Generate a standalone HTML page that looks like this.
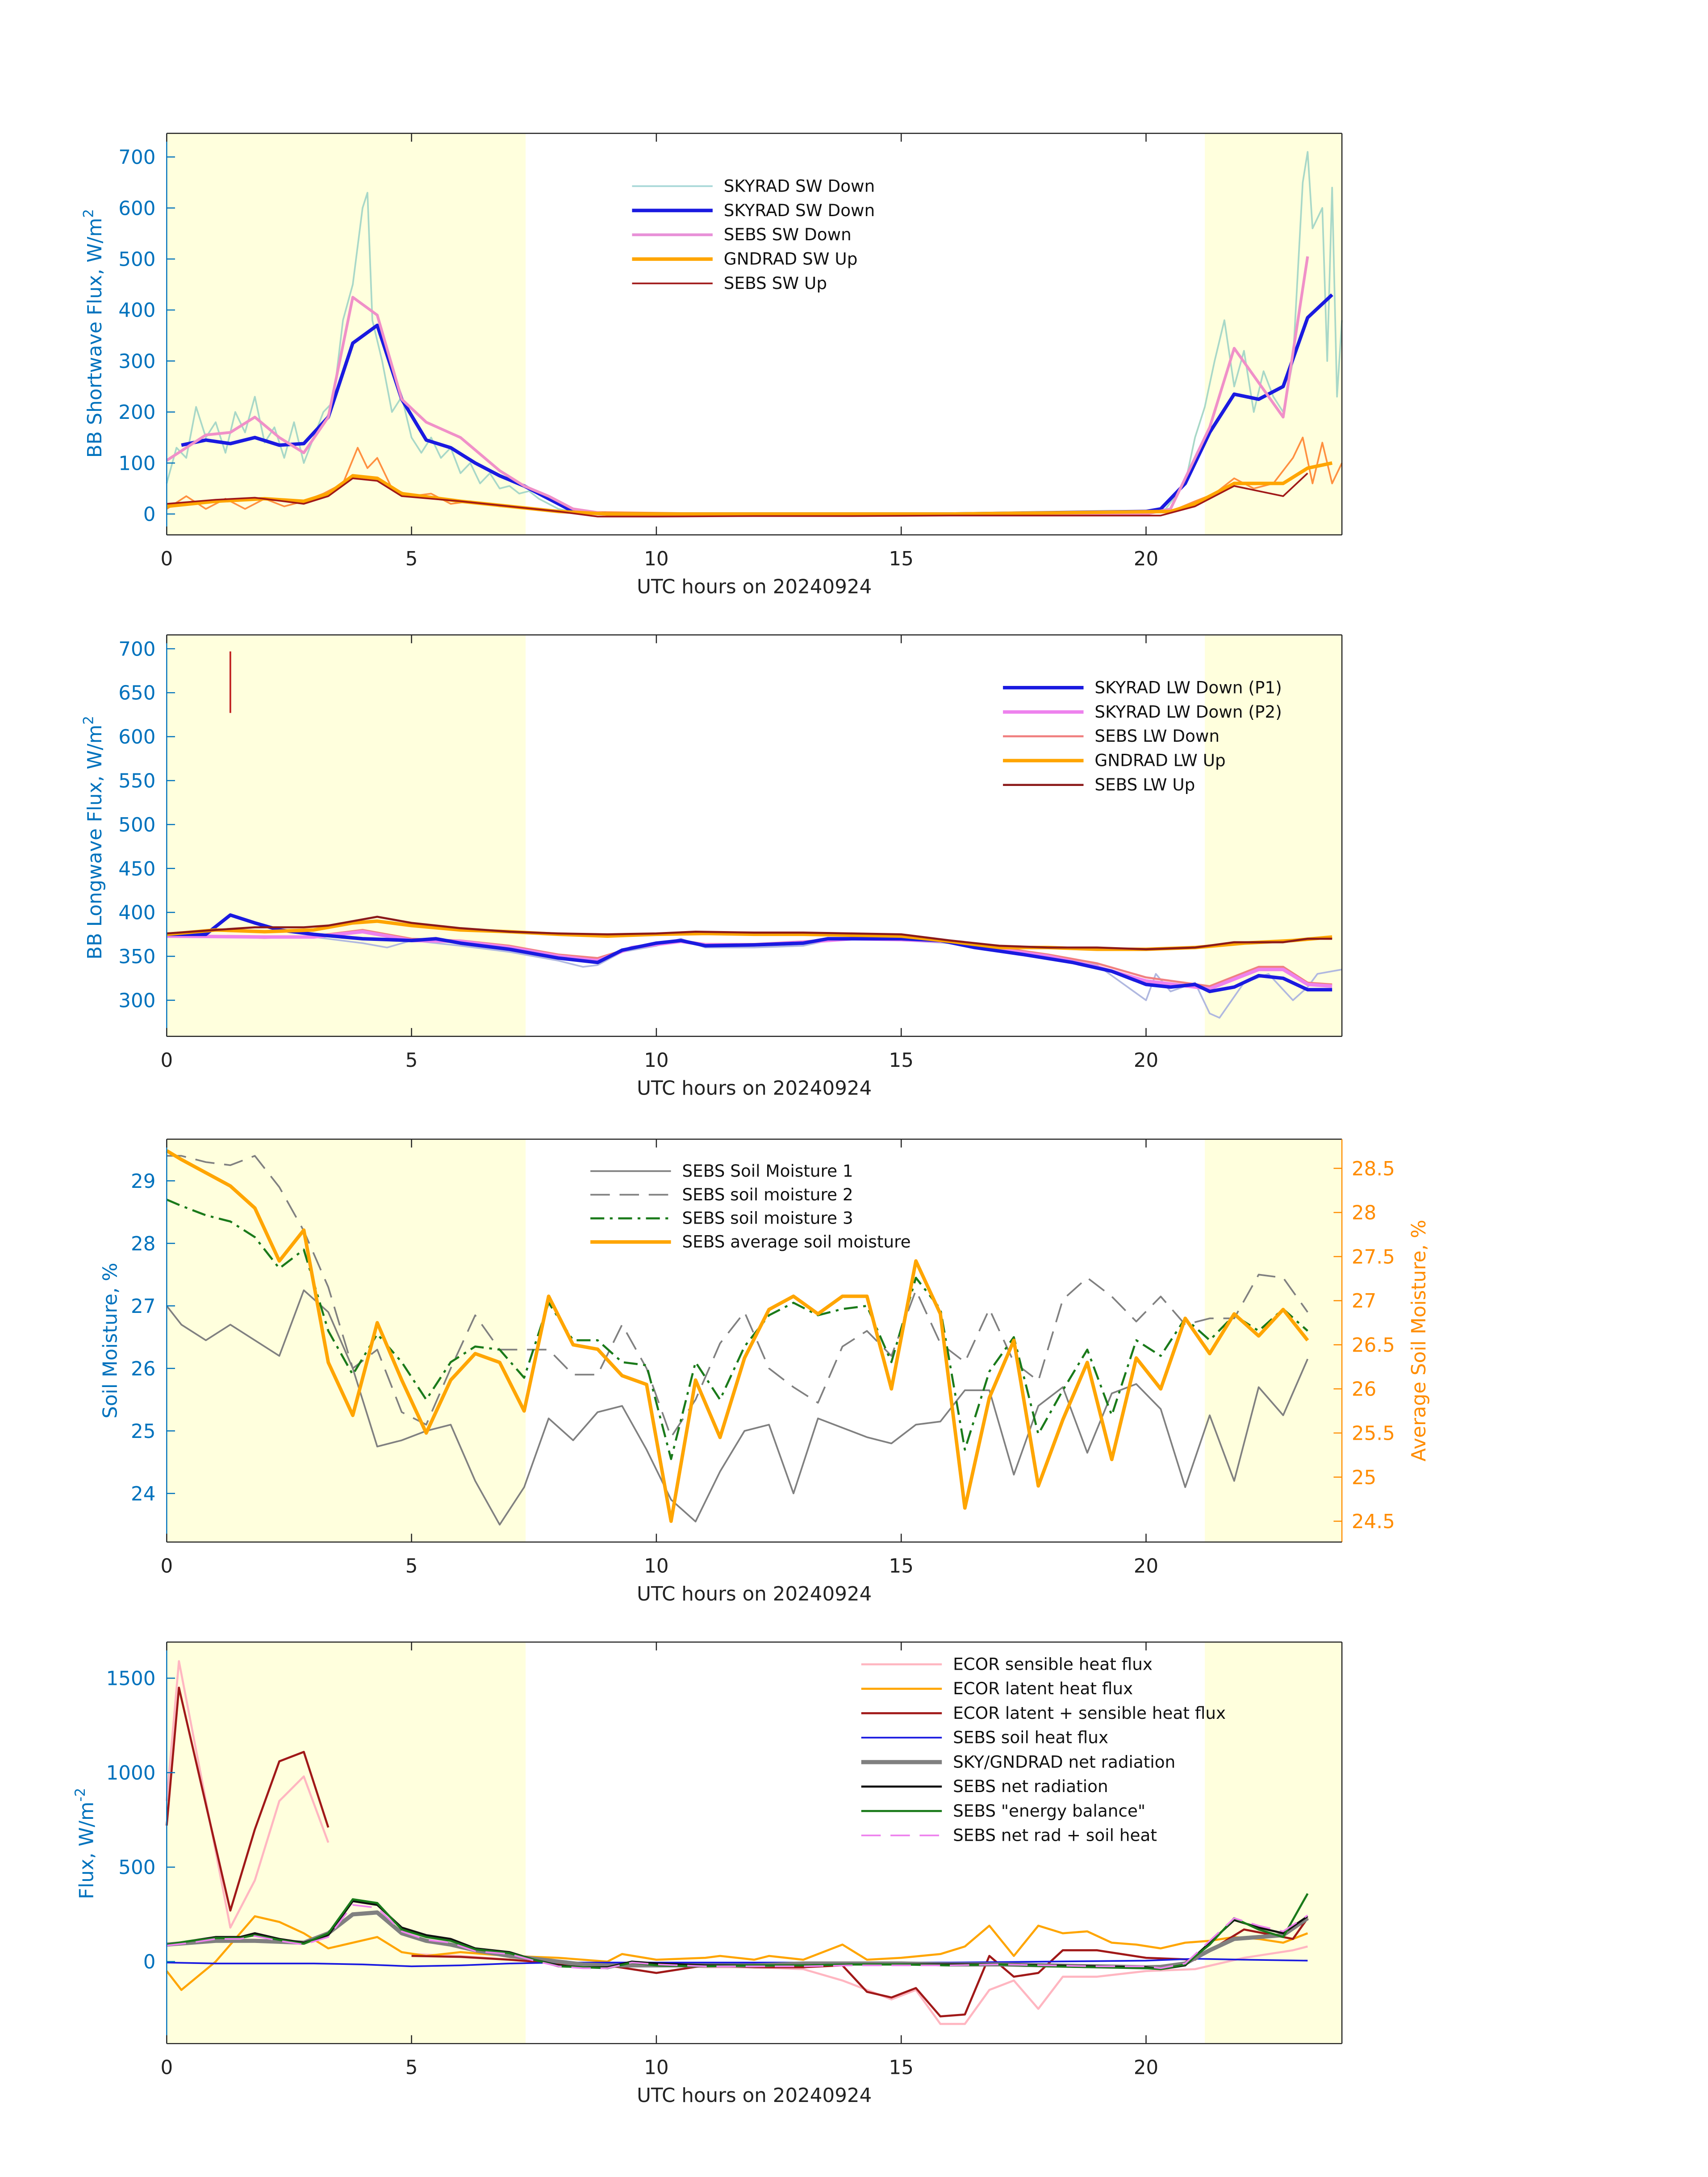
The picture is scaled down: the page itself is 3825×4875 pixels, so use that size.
<!DOCTYPE html>
<html><head><meta charset="utf-8">
<style>
html,body{margin:0;padding:0;background:#fff;}
svg{display:block;font-family:"DejaVu Sans","Liberation Sans",sans-serif;}
</style></head>
<body>
<svg width="3825" height="4875" viewBox="0 0 1224 1560" xmlns="http://www.w3.org/2000/svg"><g id="fig" transform="scale(0.9955)"></g></svg>
<script>
// ---------- DATA ----------
// Panel 1 (shortwave)
const swTealT=[0,0.2,0.4,0.6,0.8,1.0,1.2,1.4,1.6,1.8,2.0,2.2,2.4,2.6,2.8,3.0,3.2,3.4,3.6,3.8,4.0,4.1,4.2,4.4,4.6,4.8,5.0,5.2,5.4,5.6,5.8,6.0,6.2,6.4,6.6,6.8,7.0,7.2,7.4,7.6,8,8.5,12,16,20,20.4,20.8,21.0,21.2,21.4,21.6,21.8,22,22.2,22.4,22.6,22.8,23.0,23.2,23.3,23.4,23.6,23.7,23.8,23.9,24];
const swTealV=[60,130,110,210,150,180,120,200,160,230,140,170,110,180,100,150,200,220,380,450,600,630,380,300,200,230,150,120,150,110,130,80,100,60,80,50,55,40,45,30,10,0,0,0,0,10,60,150,210,300,380,250,320,200,280,230,200,300,650,710,560,600,300,640,230,380];
const swDownT=[0.3,0.8,1.3,1.8,2.3,2.8,3.3,3.8,4.3,4.8,5.3,5.8,6.3,6.8,7.3,7.8,8.3,9,12,16,20,20.3,20.8,21.3,21.8,22.3,22.8,23.3,23.8];
const swDownV=[135,145,138,150,135,138,190,335,370,225,145,130,100,75,55,30,5,0,0,0,5,10,60,160,235,225,250,385,430];
const sebsDownT=[0,0.8,1.3,1.8,2.3,2.8,3.3,3.8,4.3,4.8,5.3,6,6.8,7.3,7.8,8.3,9,12,16,20,20.5,21.3,21.8,22.8,23.3];
const sebsDownV=[105,155,160,190,150,120,190,425,390,225,180,150,85,55,35,10,0,0,0,0,10,170,325,190,505];
const gndNoisyT=[0,0.4,0.8,1.2,1.6,2,2.4,2.8,3.2,3.6,3.9,4.1,4.3,4.6,5,5.4,5.8,6.2,6.8,7.5,8,12,16,20.5,21,21.4,21.8,22.2,22.6,23,23.2,23.4,23.6,23.8,24];
const gndNoisyV=[10,35,10,30,10,30,15,25,40,60,130,90,110,50,35,40,20,25,15,10,5,0,0,5,25,40,70,50,60,110,150,60,140,60,100];
const gndUpT=[0,1,2,2.8,3.3,3.8,4.3,4.8,6,7,8,9,12,16,20.5,21,21.8,22.8,23.3,23.8];
const gndUpV=[15,25,30,25,40,75,70,40,25,15,5,0,0,0,5,20,60,60,90,100];
const sebsUpT=[0,1,1.8,2.8,3.3,3.8,4.3,4.8,6,7,8,8.8,10,12,14,16,18,20.3,21,21.8,22.8,23.3];
const sebsUpV=[20,28,32,20,35,70,65,35,25,15,5,-5,-5,-4,-4,-3,-3,-3,15,55,35,80];
const swTicks=[0,100,200,300,400,500,600,700];
// Panel 2 (longwave)
const lwThinT=[0,1,2,3,4,4.5,5,6,7,8,8.5,8.8,9.3,10,10.5,11,12,13,13.5,14,15,16,17,18,19,19.5,20,20.2,20.5,21,21.3,21.5,22,22.5,23,23.3,23.5,24];
const lwThinV=[372,372,372,372,365,360,368,362,355,345,338,340,355,362,370,360,360,362,368,370,368,365,356,348,340,320,300,330,310,320,285,280,320,330,300,315,330,335];
const lwP1T=[0,0.8,1.3,1.8,2.3,3,4,5,5.5,6,7,8,8.8,9.3,10,10.5,11,12,13,13.5,14,15,15.8,16.5,17.5,18.5,19.3,20,20.5,21,21.3,21.8,22.3,22.8,23.3,23.8];
const lwP1V=[375,375,397,388,380,375,370,368,370,365,358,348,343,357,365,368,362,363,365,370,370,370,368,360,352,343,333,318,315,318,310,315,328,325,312,312];
const lwP2T=[0,2,3,4,5,6,7,8,8.8,9.5,10.5,11,12,13,14,15,16,17,18,19,20,21.3,22.3,22.8,23.3,23.8];
const lwP2V=[373,372,372,378,368,367,360,350,345,360,367,363,363,366,370,369,367,358,350,338,322,313,335,335,318,316];
const sebsLwDownT=[0,2,3,4,5,6,7,8,8.8,9.5,10.5,11,12,13,14,15,16,17,18,19,20,21.3,22.3,22.8,23.3,23.8];
const sebsLwDownV=[374,371,373,380,370,368,362,352,348,360,368,364,364,367,371,370,368,360,352,342,326,316,338,338,320,318];
const gndLwT=[0,1,2,3,3.8,4.3,5,6,7,8,9,10,11,12,13,14,15,16,17,18,19,20,21,22,23,23.8];
const gndLwV=[375,380,378,380,388,390,385,380,378,375,373,375,376,375,375,374,373,367,360,360,358,358,360,365,368,372];
const sebsLwUpT=[0,1,1.8,2.8,3.3,4.3,5,6,7,8,9,10,10.8,12,13,14,15,16,17,18,19,20,21,21.8,22.8,23.3,23.8];
const sebsLwUpV=[376,380,383,383,385,395,388,382,378,376,375,376,378,377,377,376,375,368,362,360,360,358,360,366,366,370,370];
const lwSpikeT=[1.3,1.3];
const lwSpikeV=[627,697];
const lwTicks=[300,350,400,450,500,550,600,650,700];
// Panel 3 (soil moisture)
const smT=[0,0.3,0.8,1.3,1.8,2.3,2.8,3.3,3.8,4.3,4.8,5.3,5.8,6.3,6.8,7.3,7.8,8.3,8.8,9.3,9.8,10.3,10.8,11.3,11.8,12.3,12.8,13.3,13.8,14.3,14.8,15.3,15.8,16.3,16.8,17.3,17.8,18.3,18.8,19.3,19.8,20.3,20.8,21.3,21.8,22.3,22.8,23.3];
const sm1=[27.0,26.7,26.45,26.7,26.45,26.2,27.25,26.9,26.0,24.75,24.85,25.0,25.1,24.2,23.5,24.1,25.2,24.85,25.3,25.4,24.7,23.9,23.55,24.35,25.0,25.1,24.0,25.2,25.05,24.9,24.8,25.1,25.15,25.65,25.65,24.3,25.4,25.7,24.65,25.6,25.75,25.35,24.1,25.25,24.2,25.7,25.25,26.15];
const sm2=[29.4,29.4,29.3,29.25,29.4,28.9,28.2,27.3,26.0,26.3,25.3,25.1,26.0,26.85,26.3,26.3,26.3,25.9,25.9,26.7,26.0,24.9,25.5,26.4,26.9,26.0,25.7,25.45,26.35,26.6,26.2,27.25,26.4,26.1,26.95,26.1,25.8,27.1,27.45,27.15,26.75,27.15,26.7,26.8,26.8,27.5,27.45,26.9];
const sm3=[28.7,28.6,28.45,28.35,28.1,27.6,27.9,26.6,25.9,26.55,26.1,25.5,26.1,26.35,26.3,25.85,27.05,26.45,26.45,26.1,26.05,24.55,26.1,25.5,26.35,26.85,27.05,26.85,26.95,27.0,26.1,27.45,26.95,24.7,25.95,26.5,24.95,25.65,26.3,25.25,26.45,26.2,26.8,26.45,26.85,26.6,26.95,26.6];
const smAvg=[28.7,28.6,28.45,28.3,28.05,27.45,27.8,26.3,25.7,26.75,26.1,25.5,26.1,26.4,26.3,25.75,27.05,26.5,26.45,26.15,26.05,24.5,26.1,25.45,26.35,26.9,27.05,26.85,27.05,27.05,26.0,27.45,26.85,24.65,25.9,26.55,24.9,25.65,26.3,25.2,26.35,26.0,26.8,26.4,26.85,26.6,26.9,26.55];
const smLeftTicks=[24,25,26,27,28,29];
const smRightTicks=[24.5,25,25.5,26,26.5,27,27.5,28,28.5];
// Panel 4 (flux)
const ecorT1=[0,0.25,1.3,1.8,2.3,2.8,3.3];
const ecorSens1=[850,1590,180,430,850,980,630];
const ecorSum1=[720,1450,270,700,1060,1110,710];
const ecorT2=[5,6,7,8,9,10,11,12,13,13.8,14.3,14.8,15.3,15.8,16.3,16.8,17.3,17.8,18.3,19,20,21,22,23,23.3];
const ecorSens2=[40,30,10,-10,-30,-20,-30,-30,-40,-100,-150,-200,-150,-330,-330,-150,-100,-250,-80,-80,-50,-40,20,60,80];
const ecorSum2=[30,25,10,-10,-20,-60,-20,-30,-30,-20,-160,-190,-140,-290,-280,30,-80,-60,60,60,20,10,170,120,230];
const latT=[0,0.3,1,1.8,2.3,2.8,3.3,4.3,4.8,5.3,6,7,8,9,9.3,10,11,11.3,12,12.3,13,13.8,14.3,15,15.8,16.3,16.8,17.3,17.8,18.3,18.8,19.3,19.8,20.3,20.8,21.3,21.8,22.3,22.8,23.3];
const latV=[-50,-150,0,240,210,150,70,130,50,30,50,30,20,0,40,10,20,30,10,30,10,90,10,20,40,80,190,30,190,150,160,100,90,70,100,110,130,120,100,150];
const soilT=[0,1,2,3,4,5,6,7,8,10,12,14,16,18,20,21,22,23.3];
const soilV=[-5,-10,-10,-10,-15,-25,-20,-10,-5,-5,-5,-5,-5,0,5,15,10,5];
const netT=[0,0.5,1,1.5,1.8,2.3,2.8,3.3,3.8,4.3,4.8,5.3,5.8,6.3,7,7.5,8,8.5,9,9.5,10,11,12,13,14,15,16,17,18,19,20,20.3,20.8,21.3,21.8,22.3,22.8,23.3];
const skyNet=[90,100,110,110,110,105,100,150,250,260,150,110,90,60,30,15,0,-15,-20,-20,-20,-20,-20,-10,-10,-10,-15,-15,-20,-25,-30,-28,-10,60,120,130,140,230];
const sebsNet=[90,110,130,130,150,120,100,140,320,300,180,140,120,70,50,10,-20,-30,-30,0,-10,-20,-20,-20,-15,-15,-15,-15,-20,-25,-30,-40,-20,100,220,180,150,240];
const energyBal=[90,110,125,125,140,115,95,150,330,310,170,130,110,65,45,10,-25,-30,-35,-5,-20,-25,-20,-20,-15,-15,-20,-15,-25,-30,-35,-40,-15,90,230,170,130,360];
const netSoil=[85,100,120,120,135,110,90,130,300,285,160,115,100,55,40,5,-25,-35,-35,-5,-15,-25,-25,-25,-20,-20,-20,-15,-20,-25,-25,-35,-10,110,230,190,160,245];
const fluxTicks=[0,500,1000,1500];
const hourTicks=[0,5,10,15,20];

// ---------- RENDER ----------
const NS="http://www.w3.org/2000/svg";
const svg=document.getElementById('fig');
const BLUE="#0072BD", ORANGE="#FF8C00";
function el(tag,attrs,parent){const e=document.createElementNS(NS,tag);for(const k in attrs)e.setAttribute(k,attrs[k]);(parent||svg).appendChild(e);return e;}
function txt(x,y,s,attrs,parent){const t=el('text',Object.assign({x:x,y:y},attrs),parent);t.textContent=s;return t;}
const X0=120,X1=966;
function xs(h){return X0+(X1-X0)*h/24;}
function makeY(v0,p0,v1,p1){return v=>p0+(v-v0)*(p1-p0)/(v1-v0);}
function line(g,T,V,ys,stroke,w,extra){
  let d='';for(let i=0;i<T.length;i++){d+=(i?'L':'M')+xs(T[i]).toFixed(2)+','+ys(V[i]).toFixed(2);}
  return el('path',Object.assign({d:d,fill:'none',stroke:stroke,'stroke-width':w,'stroke-linejoin':'round'},extra||{}),g);
}
function panel(name,top,bot){
  const g=el('g',{});
  
  
  const s1=el('rect',{x:X0,y:top,width:xs(7.33)-X0,height:bot-top,fill:'#FFFFDD'},g);
  
  
  const s2=el('rect',{x:xs(21.2),y:top,width:X1-xs(21.2),height:bot-top,fill:'#FFFFDD'},g);
  
  
  return g;
}
function frame(g,top,bot,rightColor){
  el('line',{x1:X0,y1:top,x2:X1,y2:top,stroke:'#222','stroke-width':0.8},g);
  el('line',{x1:X1,y1:top,x2:X1,y2:bot,stroke:rightColor||'#222','stroke-width':0.8},g);
  el('line',{x1:X0,y1:bot,x2:X1,y2:bot,stroke:'#222','stroke-width':0.8},g);
  el('line',{x1:X0,y1:top,x2:X0,y2:bot,stroke:BLUE,'stroke-width':0.8},g);
  const xt=el('g',{},g);
  
  
  hourTicks.forEach(h=>{el('line',{x1:xs(h),y1:bot,x2:xs(h),y2:bot-6,stroke:'#222','stroke-width':0.8},xt);el('line',{x1:xs(h),y1:top,x2:xs(h),y2:top+6,stroke:'#222','stroke-width':0.8},xt);txt(xs(h),bot+22,String(h),{'font-size':14,'text-anchor':'middle',fill:'#222'},xt);});
  const xl=txt(543,bot+42,'UTC hours on 20240924',{'font-size':14,'text-anchor':'middle',fill:'#222'},g);
  
  
}
function yticks(g,ticks,ys,fmt,side,color){
  const yt=el('g',{},g);
  
  
  ticks.forEach(v=>{const y=ys(v);
    if(side==='r'){el('line',{x1:X1,y1:y,x2:X1-6,y2:y,stroke:color,'stroke-width':0.8},yt);txt(X1+7,y+5,fmt(v),{'font-size':14,fill:color},yt);}
    else{el('line',{x1:X0,y1:y,x2:X0+6,y2:y,stroke:color,'stroke-width':0.8},yt);txt(X0-8,y+5,fmt(v),{'font-size':14,'text-anchor':'end',fill:color},yt);}
  });
}
function legend(g,x,y0,dy,items){
  const lg=el('g',{},g);
  
  
  items.forEach((it,i)=>{const y=y0+i*dy;
    const e=el('g',{},lg);
    
    
    el('line',Object.assign({x1:x,y1:y,x2:x+58,y2:y,stroke:it[1],'stroke-width':it[2]},it[3]||{}),e);
    txt(x+66,y+4,it[0],{'font-size':12,fill:'#111'},e);
  });
}
function ytitle(g,x,y,html,color){
  const t=el('text',{x:0,y:0,'font-size':14,'text-anchor':'middle',fill:color,transform:`translate(${x},${y}) rotate(-90)`},g);
  t.innerHTML=html;
  
  
  return t;
}
function named(e,n){return e;}

// Panel 1
{const top=96,bot=385;const g=panel('shortwave-panel',top,bot);
 const ys=makeY(0,370,700,113);
 named(line(g,swTealT,swTealV,ys,'#A8D8C8',1.2),'skyrad-sw-down-1min');
 named(line(g,gndNoisyT,gndNoisyV,ys,'#FF9040',1.2),'gndrad-sw-up-1min');
 named(line(g,swDownT,swDownV,ys,'#1A1AE0',2.5),'skyrad-sw-down');
 named(line(g,sebsDownT,sebsDownV,ys,'#F090C8',2),'sebs-sw-down');
 named(line(g,gndUpT,gndUpV,ys,'#FFA500',2.5),'gndrad-sw-up');
 named(line(g,sebsUpT,sebsUpV,ys,'#A01818',1.2),'sebs-sw-up');
 frame(g,top,bot);yticks(g,swTicks,ys,String,'l',BLUE);
 ytitle(g,73,240,'BB Shortwave Flux, W/m<tspan dy="-6" font-size="10">2</tspan>',BLUE);
 legend(g,455,134,17.5,[['SKYRAD SW Down','#A8D8D8',1.2],['SKYRAD SW Down','#1A1AE0',2.5],['SEBS SW Down','#E890D8',2],['GNDRAD SW Up','#FFA500',2.5],['SEBS SW Up','#A01818',1.2]]);
}
// Panel 2
{const top=457,bot=746;const g=panel('longwave-panel',top,bot);
 const ys=makeY(300,720,700,467);
 named(line(g,lwThinT,lwThinV,ys,'#B0B8E0',1.2),'skyrad-lw-down-1min');
 named(line(g,sebsLwDownT,sebsLwDownV,ys,'#F08080',1.5),'sebs-lw-down');
 named(line(g,lwP2T,lwP2V,ys,'#EE82EE',2.5),'skyrad-lw-down-p2');
 named(line(g,lwP1T,lwP1V,ys,'#1A1AE0',2.5),'skyrad-lw-down-p1');
 named(line(g,gndLwT,gndLwV,ys,'#FFA500',2.5),'gndrad-lw-up');
 named(line(g,sebsLwUpT,sebsLwUpV,ys,'#8B1A1A',1.5),'sebs-lw-up');
 named(line(g,lwSpikeT,lwSpikeV,ys,'#C02020',1.2),'sebs-lw-spike');
 frame(g,top,bot);yticks(g,lwTicks,ys,String,'l',BLUE);
 ytitle(g,73,603,'BB Longwave Flux, W/m<tspan dy="-6" font-size="10">2</tspan>',BLUE);
 legend(g,722,495,17.5,[['SKYRAD LW Down (P1)','#1A1AE0',2.5],['SKYRAD LW Down (P2)','#EE82EE',2.5],['SEBS LW Down','#F08080',1.5],['GNDRAD LW Up','#FFA500',2.5],['SEBS LW Up','#8B1A1A',1.5]]);
}
// Panel 3
{const top=820,bot=1110;const g=panel('soil-moisture-panel',top,bot);
 const ys=makeY(24,1075,29,850);const yr=makeY(24.5,1095,28.5,841);
 named(line(g,smT,sm1,ys,'#808080',1.2),'soil-moisture-1');
 named(line(g,smT,sm2,ys,'#808080',1.2,{'stroke-dasharray':'14,7'}),'soil-moisture-2');
 named(line(g,smT,sm3,ys,'#1A7A1A',1.5,{'stroke-dasharray':'10,4,2,4'}),'soil-moisture-3');
 named(line(g,smT,smAvg,yr,'#FFA500',2.5),'average-soil-moisture');
 frame(g,top,bot,ORANGE);yticks(g,smLeftTicks,ys,String,'l',BLUE);yticks(g,smRightTicks,yr,String,'r',ORANGE);
 ytitle(g,84,965,'Soil Moisture, %',BLUE);
 const rt=ytitle(g,1026,965,'Average Soil Moisture, %',ORANGE);
 legend(g,425,843,17,[['SEBS Soil Moisture 1','#808080',1.2],['SEBS soil moisture 2','#808080',1.2,{'stroke-dasharray':'14,7'}],['SEBS soil moisture 3','#1A7A1A',1.5,{'stroke-dasharray':'10,4,2,4'}],['SEBS average soil moisture','#FFA500',2.5]]);
}
// Panel 4
{const top=1182,bot=1471;const g=panel('flux-panel',top,bot);
 const ys=makeY(0,1412,1500,1208);
 named(line(g,ecorT1,ecorSens1,ys,'#FFB6C1',1.5),'ecor-sensible-early');
 named(line(g,ecorT2,ecorSens2,ys,'#FFB6C1',1.5),'ecor-sensible');
 named(line(g,latT,latV,ys,'#FFA500',1.5),'ecor-latent');
 named(line(g,ecorT1,ecorSum1,ys,'#A01818',1.5),'ecor-latent-plus-sensible-early');
 named(line(g,ecorT2,ecorSum2,ys,'#A01818',1.5),'ecor-latent-plus-sensible');
 named(line(g,soilT,soilV,ys,'#1A1AE0',1.2),'sebs-soil-heat-flux');
 named(line(g,netT,skyNet,ys,'#808080',3),'sky-gndrad-net-radiation');
 named(line(g,netT,sebsNet,ys,'#111',1.5),'sebs-net-radiation');
 named(line(g,netT,energyBal,ys,'#1A7A1A',1.5),'sebs-energy-balance');
 named(line(g,netT,netSoil,ys,'#EE82EE',1.2,{'stroke-dasharray':'14,7'}),'sebs-net-rad-plus-soil-heat');
 frame(g,top,bot);yticks(g,fluxTicks,ys,String,'l',BLUE);
 ytitle(g,67,1327,'Flux, W/m<tspan dy="-6" font-size="10">-2</tspan>',BLUE);
 legend(g,620,1198,17.6,[['ECOR sensible heat flux','#FFB6C1',1.5],['ECOR latent heat flux','#FFA500',1.5],['ECOR latent + sensible heat flux','#A01818',1.5],['SEBS soil heat flux','#1A1AE0',1.2],['SKY/GNDRAD net radiation','#808080',3],['SEBS net radiation','#111',1.5],['SEBS "energy balance"','#1A7A1A',1.5],['SEBS net rad + soil heat','#EE82EE',1.2,{'stroke-dasharray':'14,7'}]]);
}
</script>
</body></html>
